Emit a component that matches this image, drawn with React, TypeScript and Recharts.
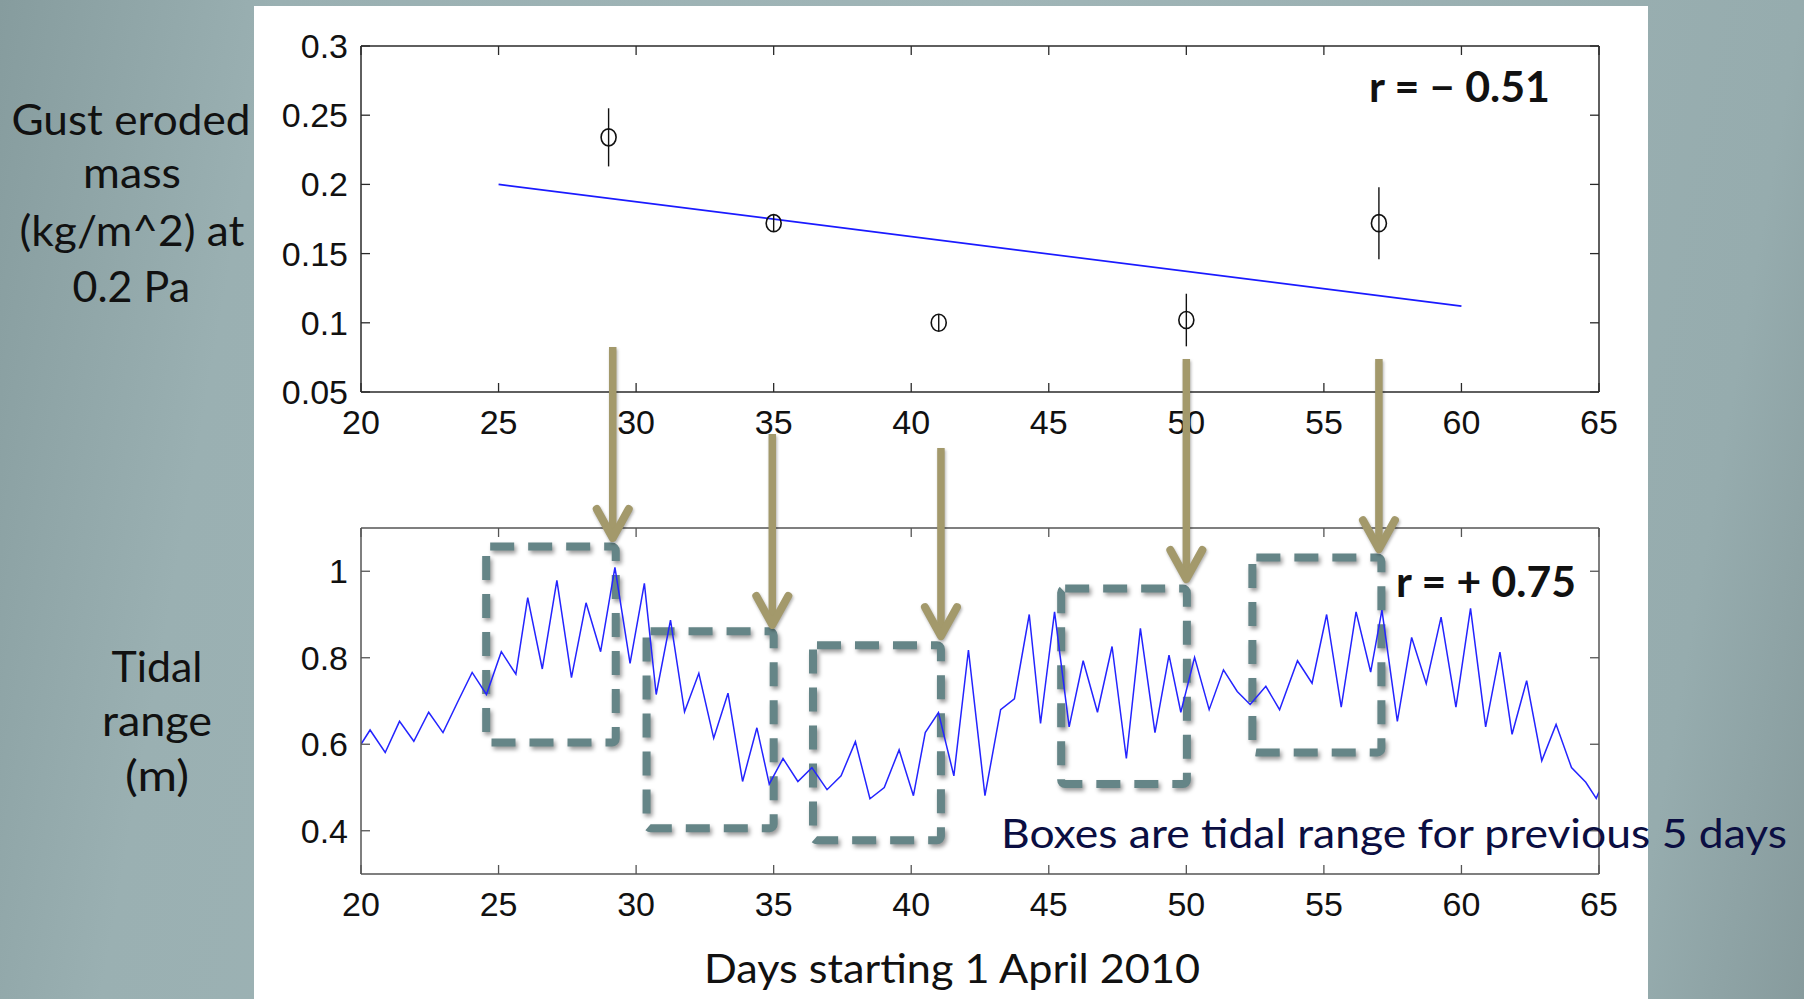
import React from "react";
import { ComposedChart, Line, Scatter, ErrorBar, XAxis, YAxis, ReferenceArea } from "recharts";

// upper panel: gust eroded mass samples
const sampleDays = [29, 35, 41, 50, 57];
const erodedMass = [0.234, 0.172, 0.1, 0.102, 0.172];
const massError = [0.021, 0.006, 0.006, 0.019, 0.026];

// least-squares fit drawn across the samples
const fitDays = [25, 60];
const fitMass = [0.2, 0.112];

// lower panel: tidal range per tide
const tideDays = [
  20.0, 20.33, 20.88, 21.4, 21.92, 22.46, 22.98, 23.5, 24.04, 24.56, 25.1, 25.63, 26.06, 26.59, 27.12, 27.65,
  28.18, 28.71, 29.23, 29.78, 30.3, 30.73, 31.25, 31.76, 32.28, 32.82, 33.34, 33.87, 34.39, 34.84, 35.34, 35.88,
  36.39, 36.94, 37.45, 37.97, 38.5, 39.02, 39.56, 40.08, 40.51, 40.99, 41.55, 42.08, 42.68, 43.25, 43.75, 44.29,
  44.7, 45.21, 45.74, 46.25, 46.77, 47.3, 47.82, 48.33, 48.86, 49.37, 49.8, 50.3, 50.83, 51.35, 51.85, 52.32,
  52.89, 53.39, 54.04, 54.57, 55.1, 55.63, 56.17, 56.7, 57.11, 57.67, 58.19, 58.72, 59.26, 59.8, 60.33, 60.88,
  61.4, 61.84, 62.37, 62.92, 63.44, 64.0, 64.52, 64.9, 65.0,
];
const tideRange = [
  0.6, 0.633, 0.581, 0.653, 0.607, 0.674, 0.627, 0.696, 0.766, 0.715, 0.814, 0.762, 0.939, 0.774, 0.979, 0.754,
  0.927, 0.814, 1.009, 0.787, 0.972, 0.715, 0.887, 0.675, 0.764, 0.614, 0.718, 0.514, 0.638, 0.508, 0.567, 0.514,
  0.546, 0.495, 0.527, 0.606, 0.474, 0.5, 0.587, 0.481, 0.627, 0.673, 0.527, 0.818, 0.481, 0.68, 0.705, 0.9,
  0.648, 0.906, 0.64, 0.793, 0.674, 0.826, 0.567, 0.868, 0.627, 0.806, 0.674, 0.801, 0.68, 0.772, 0.722, 0.692,
  0.734, 0.68, 0.793, 0.741, 0.9, 0.686, 0.906, 0.767, 0.91, 0.653, 0.847, 0.74, 0.894, 0.686, 0.914, 0.64,
  0.813, 0.623, 0.747, 0.562, 0.646, 0.546, 0.512, 0.475, 0.49,
];

// dashed boxes: tidal range over the 5 days before each sample
const boxStart = [24.55, 30.38, 36.43, 45.45, 52.4];
const boxEnd = [29.26, 35.0, 41.08, 50.02, 57.09];
const boxTop = [1.057, 0.861, 0.829, 0.96, 1.032];
const boxBottom = [0.604, 0.406, 0.378, 0.508, 0.581];

// arrows: start in upper-panel units, tip in lower-panel units
const arrowDays = [29.15, 34.95, 41.08, 50.0, 57.0];
const arrowFrom = [0.0825, 0.0197, 0.0095, 0.0738, 0.0738];
const arrowTo = [1.077, 0.876, 0.85, 0.982, 1.051];

const dayTicks = [20, 25, 30, 35, 40, 45, 50, 55, 60, 65];
const massTicks = [0.05, 0.1, 0.15, 0.2, 0.25, 0.3];
const tideTicks = [0.4, 0.6, 0.8, 1];

const massData = sampleDays.map((d, i) => ({ day: d, mass: erodedMass[i], err: massError[i] }));
const fitData = fitDays.map((d, i) => ({ day: d, fit: fitMass[i] }));
const tideData = tideDays.map((d, i) => ({ day: d, tide: tideRange[i] }));

// plot frame geometry (page pixels)
const PL = 361;
const PR = 1599;
const TOP_T = 46;
const TOP_B = 392;
const BOT_T = 528;
const BOT_B = 874;
const CHART_H = 460;
const BOT_OFFSET = 470;

const xPx = (d: number) => PL + ((d - 20) / 45) * (PR - PL);
const topPx = (v: number) => TOP_B - ((v - 0.05) / 0.25) * (TOP_B - TOP_T);
const botPx = (v: number) => BOT_B - ((v - 0.3) / 0.8) * (BOT_B - BOT_T);

const tickFont = "'Liberation Sans', Arial, sans-serif";
const labelFont = "Lato, 'Open Sans', sans-serif";
const TL = 9;

const makeTicks = (frame: string) => ({
  bottom: (p: any) => (
    <g>
      <line x1={p.x} x2={p.x} y1={p.y} y2={p.y - TL} stroke={frame} strokeWidth={1.3} />
      <text x={p.x} y={p.y + 42} textAnchor="middle" fontFamily={tickFont} fontSize={34} fill="#111">
        {p.payload.value}
      </text>
    </g>
  ),
  left: (p: any) => (
    <g>
      <line x1={p.x} x2={p.x + TL} y1={p.y} y2={p.y} stroke={frame} strokeWidth={1.3} />
      <text x={p.x - 13} y={p.y + 12} textAnchor="end" fontFamily={tickFont} fontSize={34} fill="#111">
        {p.payload.value}
      </text>
    </g>
  ),
  top: (p: any) => <line x1={p.x} x2={p.x} y1={p.y} y2={p.y + TL} stroke={frame} strokeWidth={1.3} />,
  right: (p: any) => <line x1={p.x} x2={p.x - TL} y1={p.y} y2={p.y} stroke={frame} strokeWidth={1.3} />,
});

const topTicks = makeTicks("#2a2a2a");
const botTicks = makeTicks("#555");

const Ring = (p: any) => <ellipse cx={p.cx} cy={p.cy} rx={7.5} ry={8.5} fill="none" stroke="#111" strokeWidth={1.6} />;

const DashedBox = (p: any) => (
  <rect
    x={p.x}
    y={p.y}
    width={p.width}
    height={p.height}
    rx={4}
    fill="none"
    stroke="#658587"
    strokeWidth={8}
    strokeDasharray="24 14"
    style={{ filter: "drop-shadow(2px 3px 2px rgba(0,0,0,0.4))" }}
  />
);

function GustPanel() {
  return (
    <ComposedChart
      width={1804}
      height={CHART_H}
      margin={{ top: TOP_T - 1, right: 1804 - PR - 1, bottom: CHART_H - TOP_B - 60, left: PL - 80 }}
    >
      <XAxis xAxisId="b" dataKey="day" type="number" domain={[20, 65]} ticks={dayTicks} interval={0} height={60}
        tickSize={0} tickMargin={0} tickLine={false} axisLine={{ stroke: "#2a2a2a", strokeWidth: 1.5 }} tick={topTicks.bottom} allowDataOverflow />
      <XAxis xAxisId="t" orientation="top" dataKey="day" type="number" domain={[20, 65]} ticks={dayTicks} interval={0} height={1}
        tickSize={0} tickMargin={0} tickLine={false} axisLine={{ stroke: "#2a2a2a", strokeWidth: 1.5 }} tick={topTicks.top} allowDataOverflow />
      <YAxis yAxisId="l" type="number" domain={[0.05, 0.3]} ticks={massTicks} interval={0} width={80}
        tickSize={0} tickMargin={0} tickLine={false} axisLine={{ stroke: "#2a2a2a", strokeWidth: 1.5 }} tick={topTicks.left} allowDataOverflow />
      <YAxis yAxisId="r" orientation="right" type="number" domain={[0.05, 0.3]} ticks={massTicks} interval={0} width={1}
        tickSize={0} tickMargin={0} tickLine={false} axisLine={{ stroke: "#2a2a2a", strokeWidth: 1.5 }} tick={topTicks.right} allowDataOverflow />
      <Line xAxisId="b" yAxisId="l" data={fitData} dataKey="fit" type="linear" stroke="#1a1aff" strokeWidth={1.7} dot={false} isAnimationActive={false} />
      <Scatter xAxisId="b" yAxisId="l" data={massData} dataKey="mass" shape={Ring} isAnimationActive={false}>
        <ErrorBar dataKey="err" direction="y" width={0} stroke="#111" strokeWidth={1.4} isAnimationActive={false} />
      </Scatter>
    </ComposedChart>
  );
}

function TidePanel() {
  const bt = BOT_T - BOT_OFFSET;
  const bb = BOT_B - BOT_OFFSET;
  return (
    <ComposedChart
      width={1804}
      height={CHART_H}
      margin={{ top: bt - 1, right: 1804 - PR - 1, bottom: CHART_H - bb - 50, left: PL - 80 }}
    >
      <XAxis xAxisId="b" dataKey="day" type="number" domain={[20, 65]} ticks={dayTicks} interval={0} height={50}
        tickSize={0} tickMargin={0} tickLine={false} axisLine={{ stroke: "#555", strokeWidth: 1.5 }} tick={botTicks.bottom} allowDataOverflow />
      <XAxis xAxisId="t" orientation="top" dataKey="day" type="number" domain={[20, 65]} ticks={dayTicks} interval={0} height={1}
        tickSize={0} tickMargin={0} tickLine={false} axisLine={{ stroke: "#555", strokeWidth: 1.5 }} tick={botTicks.top} allowDataOverflow />
      <YAxis yAxisId="l" type="number" domain={[0.3, 1.1]} ticks={tideTicks} interval={0} width={80}
        tickSize={0} tickMargin={0} tickLine={false} axisLine={{ stroke: "#555", strokeWidth: 1.5 }} tick={botTicks.left} allowDataOverflow />
      <YAxis yAxisId="r" orientation="right" type="number" domain={[0.3, 1.1]} ticks={tideTicks} interval={0} width={1}
        tickSize={0} tickMargin={0} tickLine={false} axisLine={{ stroke: "#555", strokeWidth: 1.5 }} tick={botTicks.right} allowDataOverflow />
      <Line xAxisId="b" yAxisId="l" data={tideData} dataKey="tide" type="linear" stroke="#2424ff" strokeWidth={1.5} dot={false} isAnimationActive={false} />
      {boxStart.map((s, i) => (
        <ReferenceArea key={i} xAxisId="b" yAxisId="l" x1={s} x2={boxEnd[i]} y1={boxBottom[i]} y2={boxTop[i]}
          ifOverflow="visible" shape={DashedBox} />
      ))}
    </ComposedChart>
  );
}

const Label = ({ x, y, w, size, children, bold = false, fill = "#111" }: any) => (
  <text x={x} y={y} textLength={w} lengthAdjust="spacingAndGlyphs" fontFamily={labelFont} fontSize={size}
    fontWeight={bold ? 700 : 400} fill={fill}>
    {children}
  </text>
);

function Overlay() {
  const arrow = "#a3996b";
  return (
    <svg width={1804} height={999} style={{ position: "absolute", left: 0, top: 0, pointerEvents: "none" }}>
      <Label x={11.5} y={135} w={239} size={42}>Gust eroded</Label>
      <Label x={83} y={188} w={98} size={42}>mass</Label>
      <Label x={19.5} y={246} w={225} size={42}>(kg/m^2) at</Label>
      <Label x={72.5} y={302} w={117.5} size={42}>0.2 Pa</Label>
      <Label x={111.5} y={682} w={91} size={42}>Tidal</Label>
      <Label x={102} y={736} w={110} size={42}>range</Label>
      <Label x={125} y={791} w={64} size={42}>(m)</Label>
      <Label x={704} y={983} w={496} size={40}>Days starting 1 April 2010</Label>
      <Label x={1369} y={102} w={181} size={42} bold>r = − 0.51</Label>
      <Label x={1396} y={597} w={180} size={42} bold>r = + 0.75</Label>
      {arrowDays.map((d, i) => {
        const x = xPx(d);
        const y0 = topPx(arrowFrom[i]);
        const y1 = botPx(arrowTo[i]);
        return (
          <g key={i} stroke={arrow} strokeLinecap="round" fill="none"
            style={{ filter: "drop-shadow(1px 2px 1.5px rgba(0,0,0,0.3))" }}>
            <line x1={x} x2={x} y1={y0} y2={y1 - 3} strokeWidth={7.5} strokeLinecap="butt" />
            <polyline points={`${x - 16},${y1 - 29} ${x},${y1} ${x + 16},${y1 - 29}`} strokeWidth={8} strokeLinejoin="round" />
          </g>
        );
      })}
      <Label x={1001} y={848} w={786} size={40} fill="#0b0e42">Boxes are tidal range for previous 5 days</Label>
    </svg>
  );
}

export default function App() {
  return (
    <div
      style={{
        position: "absolute",
        left: 0,
        top: 0,
        width: 1804,
        height: 999,
        overflow: "hidden",
        background: "linear-gradient(100deg, #869c9e 0%, #9ab0b2 14%, #a0b5b7 50%, #96acae 91%, #879b9d 100%)",
      }}
    >
      <div style={{ position: "absolute", left: 254, top: 6, width: 1394, height: 993, background: "#fff" }} />
      <div style={{ position: "absolute", left: 0, top: 0 }}>
        <GustPanel />
      </div>
      <div style={{ position: "absolute", left: 0, top: BOT_OFFSET }}>
        <TidePanel />
      </div>
      <Overlay />
    </div>
  );
}
